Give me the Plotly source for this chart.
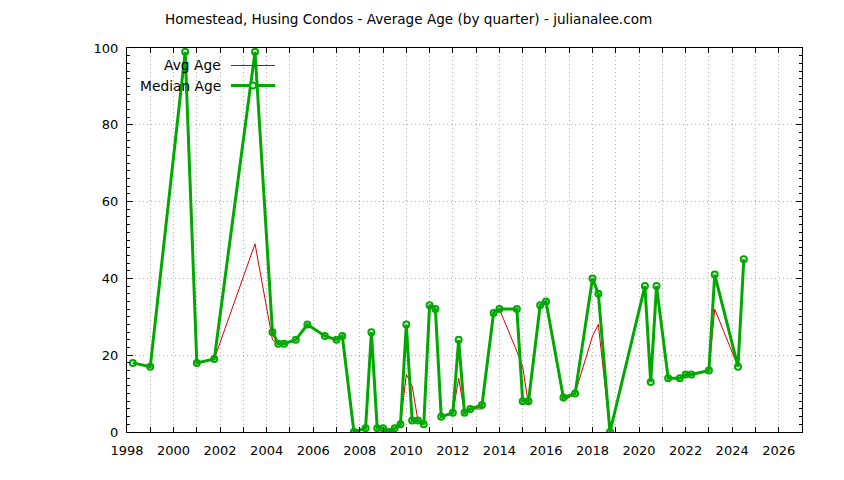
import plotly.graph_objects as go

# Quarter positions (decimal years, quarter start)
quarters = [1998.25, 1999.0, 2000.5, 2001.0, 2001.75, 2003.5, 2004.25, 2004.5, 2004.75, 2005.25,
            2005.75, 2006.5, 2007.0, 2007.25, 2007.75, 2008.25, 2008.5, 2008.75, 2009.0, 2009.25,
            2009.5, 2009.75, 2010.0, 2010.25, 2010.5, 2010.75, 2011.0, 2011.25, 2011.5, 2012.0,
            2012.25, 2012.5, 2012.75, 2013.25, 2013.75, 2014.0, 2014.75, 2015.0, 2015.25, 2015.75,
            2016.0, 2016.75, 2017.25, 2018.0, 2018.25, 2018.75, 2020.25, 2020.5, 2020.75, 2021.25,
            2021.75, 2022.0, 2022.25, 2023.0, 2023.25, 2024.25, 2024.5]

median_age = [18, 17, 99, 18, 19, 99, 26, 23, 23, 24,
              28, 25, 24, 25, 0, 1, 26, 1, 1, 0,
              1, 2, 28, 3, 3, 2, 33, 32, 4, 5,
              24, 5, 6, 7, 31, 32, 32, 8, 8, 33,
              34, 9, 10, 40, 36, 0, 38, 13, 38, 14,
              14, 15, 15, 16, 41, 17, 45]

avg_age = [18, 17, 99, 18, 19, 49, 24, 23, 23, 24,
           28, 25, 24, 25, 0, 1, 26, 1, 1, 0,
           1, 2, 15, 12, 3, 2, 33, 32, 4, 5,
           14, 5, 6, 6, 31, 32, 21, 17, 7, 33,
           34, 8, 10, 25, 28, 0, 38, 13, 38, 14,
           14, 15, 15, 16, 32, 17, 45]

x_tick_vals = list(range(1998, 2027, 2))
x_tick_text = [str(v) for v in x_tick_vals]

title_text = "Homestead, Husing Condos - Average Age (by quarter) - julianalee.com"
series_names = ["Avg Age", "Median Age"]

RED = "#d40000"
GREEN = "#00a800"
GRID = "#b4b4b4"
FONT = "DejaVu Sans"

# page body adds an 8px offset; target plot box in window pixels:
OFF = 8
W, H = 844 - OFF, 480 - OFF
L, R, T, B = 127 - OFF, 802 - OFF, 48 - OFF, 432 - OFF

fig = go.Figure()
fig.add_trace(go.Scatter(x=quarters, y=avg_age, mode="lines", name=series_names[0],
                         line=dict(color=RED, width=1), showlegend=False))
fig.add_trace(go.Scatter(x=quarters, y=median_age, mode="lines+markers", name=series_names[1],
                         line=dict(color=GREEN, width=3),
                         marker=dict(symbol="circle-open", size=6, color=GREEN,
                                     line=dict(width=2, color=GREEN)),
                         showlegend=False))

def px_x(p):
    return (p - OFF - L) / (R - L)

def px_y(p):
    return (B - (p - OFF)) / (B - T)

# gnuplot-style key: text right-aligned, sample to the right
annotations = []
shapes = []
for i, (name, color, lw) in enumerate([(series_names[0], RED, 1), (series_names[1], GREEN, 3)]):
    yy = 65.5 + 20 * i
    annotations.append(dict(x=px_x(223), y=px_y(yy), xref="paper", yref="paper",
                            text=name, showarrow=False, xanchor="right", yanchor="middle",
                            font=dict(family=FONT, size=13.8, color="black")))
    shapes.append(dict(type="line", xref="paper", yref="paper",
                       x0=px_x(231), x1=px_x(275), y0=px_y(yy), y1=px_y(yy),
                       line=dict(color=color, width=lw)))
shapes.append(dict(type="circle", xref="paper", yref="paper",
                   x0=px_x(250), x1=px_x(256), y0=px_y(88.5), y1=px_y(82.5),
                   line=dict(color=GREEN, width=2), fillcolor="white"))

annotations.append(dict(x=px_x(408), y=px_y(19), xref="paper", yref="paper",
                        text=title_text, showarrow=False, xanchor="center", yanchor="middle",
                        font=dict(family=FONT, size=13.6, color="black")))

fig.update_layout(
    width=W, height=H,
    margin=dict(l=L, r=W - R, t=T, b=H - B),
    paper_bgcolor="white", plot_bgcolor="white",
    font=dict(family=FONT, size=13, color="black"),
    annotations=annotations, shapes=shapes,
    showlegend=False,
)

fig.update_xaxes(
    range=[1998, 2027], tickmode="array", tickvals=x_tick_vals, ticktext=x_tick_text,
    ticks="inside", ticklen=5, tickcolor="black", tickwidth=1,
    showline=True, linecolor="black", linewidth=1, mirror="allticks",
    showgrid=True, gridcolor=GRID, griddash="1px,3px", gridwidth=1,
    zeroline=False, ticklabelstandoff=6,
    minor=dict(dtick=1, tick0=1998, ticks="inside", ticklen=5, tickcolor="black",
               showgrid=True, gridcolor=GRID, griddash="1px,3px", gridwidth=1),
)
fig.update_yaxes(
    range=[0, 100], dtick=20, tick0=0,
    ticks="inside", ticklen=6, tickcolor="black", tickwidth=1,
    showline=True, linecolor="black", linewidth=1, mirror="allticks",
    showgrid=True, gridcolor=GRID, griddash="1px,3px", gridwidth=1,
    zeroline=False, ticklabelstandoff=5,
    minor=dict(dtick=2, ticks="inside", ticklen=3, tickcolor="black", showgrid=False),
)

fig.write_html("out.html")
